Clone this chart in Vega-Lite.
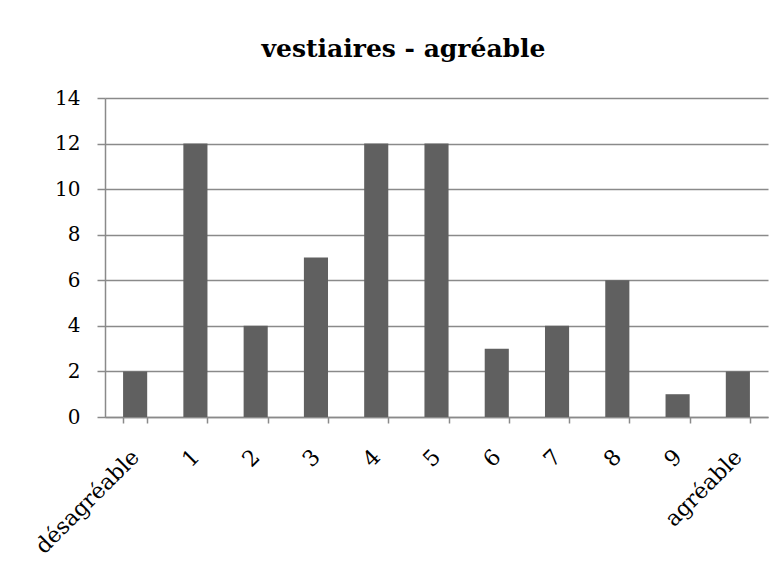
{
  "$schema": "https://vega.github.io/schema/vega-lite/v6.json",
  "width": 663,
  "height": 319,
  "autosize": "none",
  "padding": {"left": 105, "top": 98, "right": 16, "bottom": 166},
  "background": "white",
  "title": {
    "text": "vestiaires - agréable",
    "font": "DejaVu Serif",
    "fontSize": 25,
    "fontWeight": "bold",
    "color": "black",
    "anchor": "middle",
    "dx": -33,
    "offset": 26
  },
  "data": {
    "values": [
      {"cat": "désagréable", "v": 2},
      {"cat": "1", "v": 12},
      {"cat": "2", "v": 4},
      {"cat": "3", "v": 7},
      {"cat": "4", "v": 12},
      {"cat": "5", "v": 12},
      {"cat": "6", "v": 3},
      {"cat": "7", "v": 4},
      {"cat": "8", "v": 6},
      {"cat": "9", "v": 1},
      {"cat": "agréable", "v": 2}
    ]
  },
  "mark": {"type": "bar", "color": "#606060"},
  "encoding": {
    "x": {
      "field": "cat",
      "type": "nominal",
      "sort": null,
      "scale": {"paddingInner": 0.6, "paddingOuter": 0.3},
      "axis": {
        "title": null,
        "labelAngle": -45,
        "labelAlign": "right",
        "labelBaseline": "middle",
        "tickBand": "extent",
        "tickSize": 6,
        "labelFont": "DejaVu Serif",
        "labelFontSize": 22,
        "labelColor": "black",
        "labelPadding": 30,
        "labelOverlap": false,
        "labelBound": false,
        "grid": false
      }
    },
    "y": {
      "field": "v",
      "type": "quantitative",
      "scale": {"domain": [0, 14]},
      "axis": {
        "title": null,
        "values": [0, 2, 4, 6, 8, 10, 12, 14],
        "tickSize": 8,
        "labelPadding": 17,
        "labelFont": "DejaVu Serif",
        "labelFontSize": 20,
        "labelColor": "black",
        "grid": true
      }
    }
  },
  "config": {
    "view": {"stroke": null},
    "axis": {
      "domainColor": "#8a8a8a",
      "domainWidth": 1.5,
      "tickColor": "#8a8a8a",
      "tickWidth": 1.5,
      "gridColor": "#8a8a8a",
      "gridWidth": 1.5,
      "gridOpacity": 1
    }
  }
}
